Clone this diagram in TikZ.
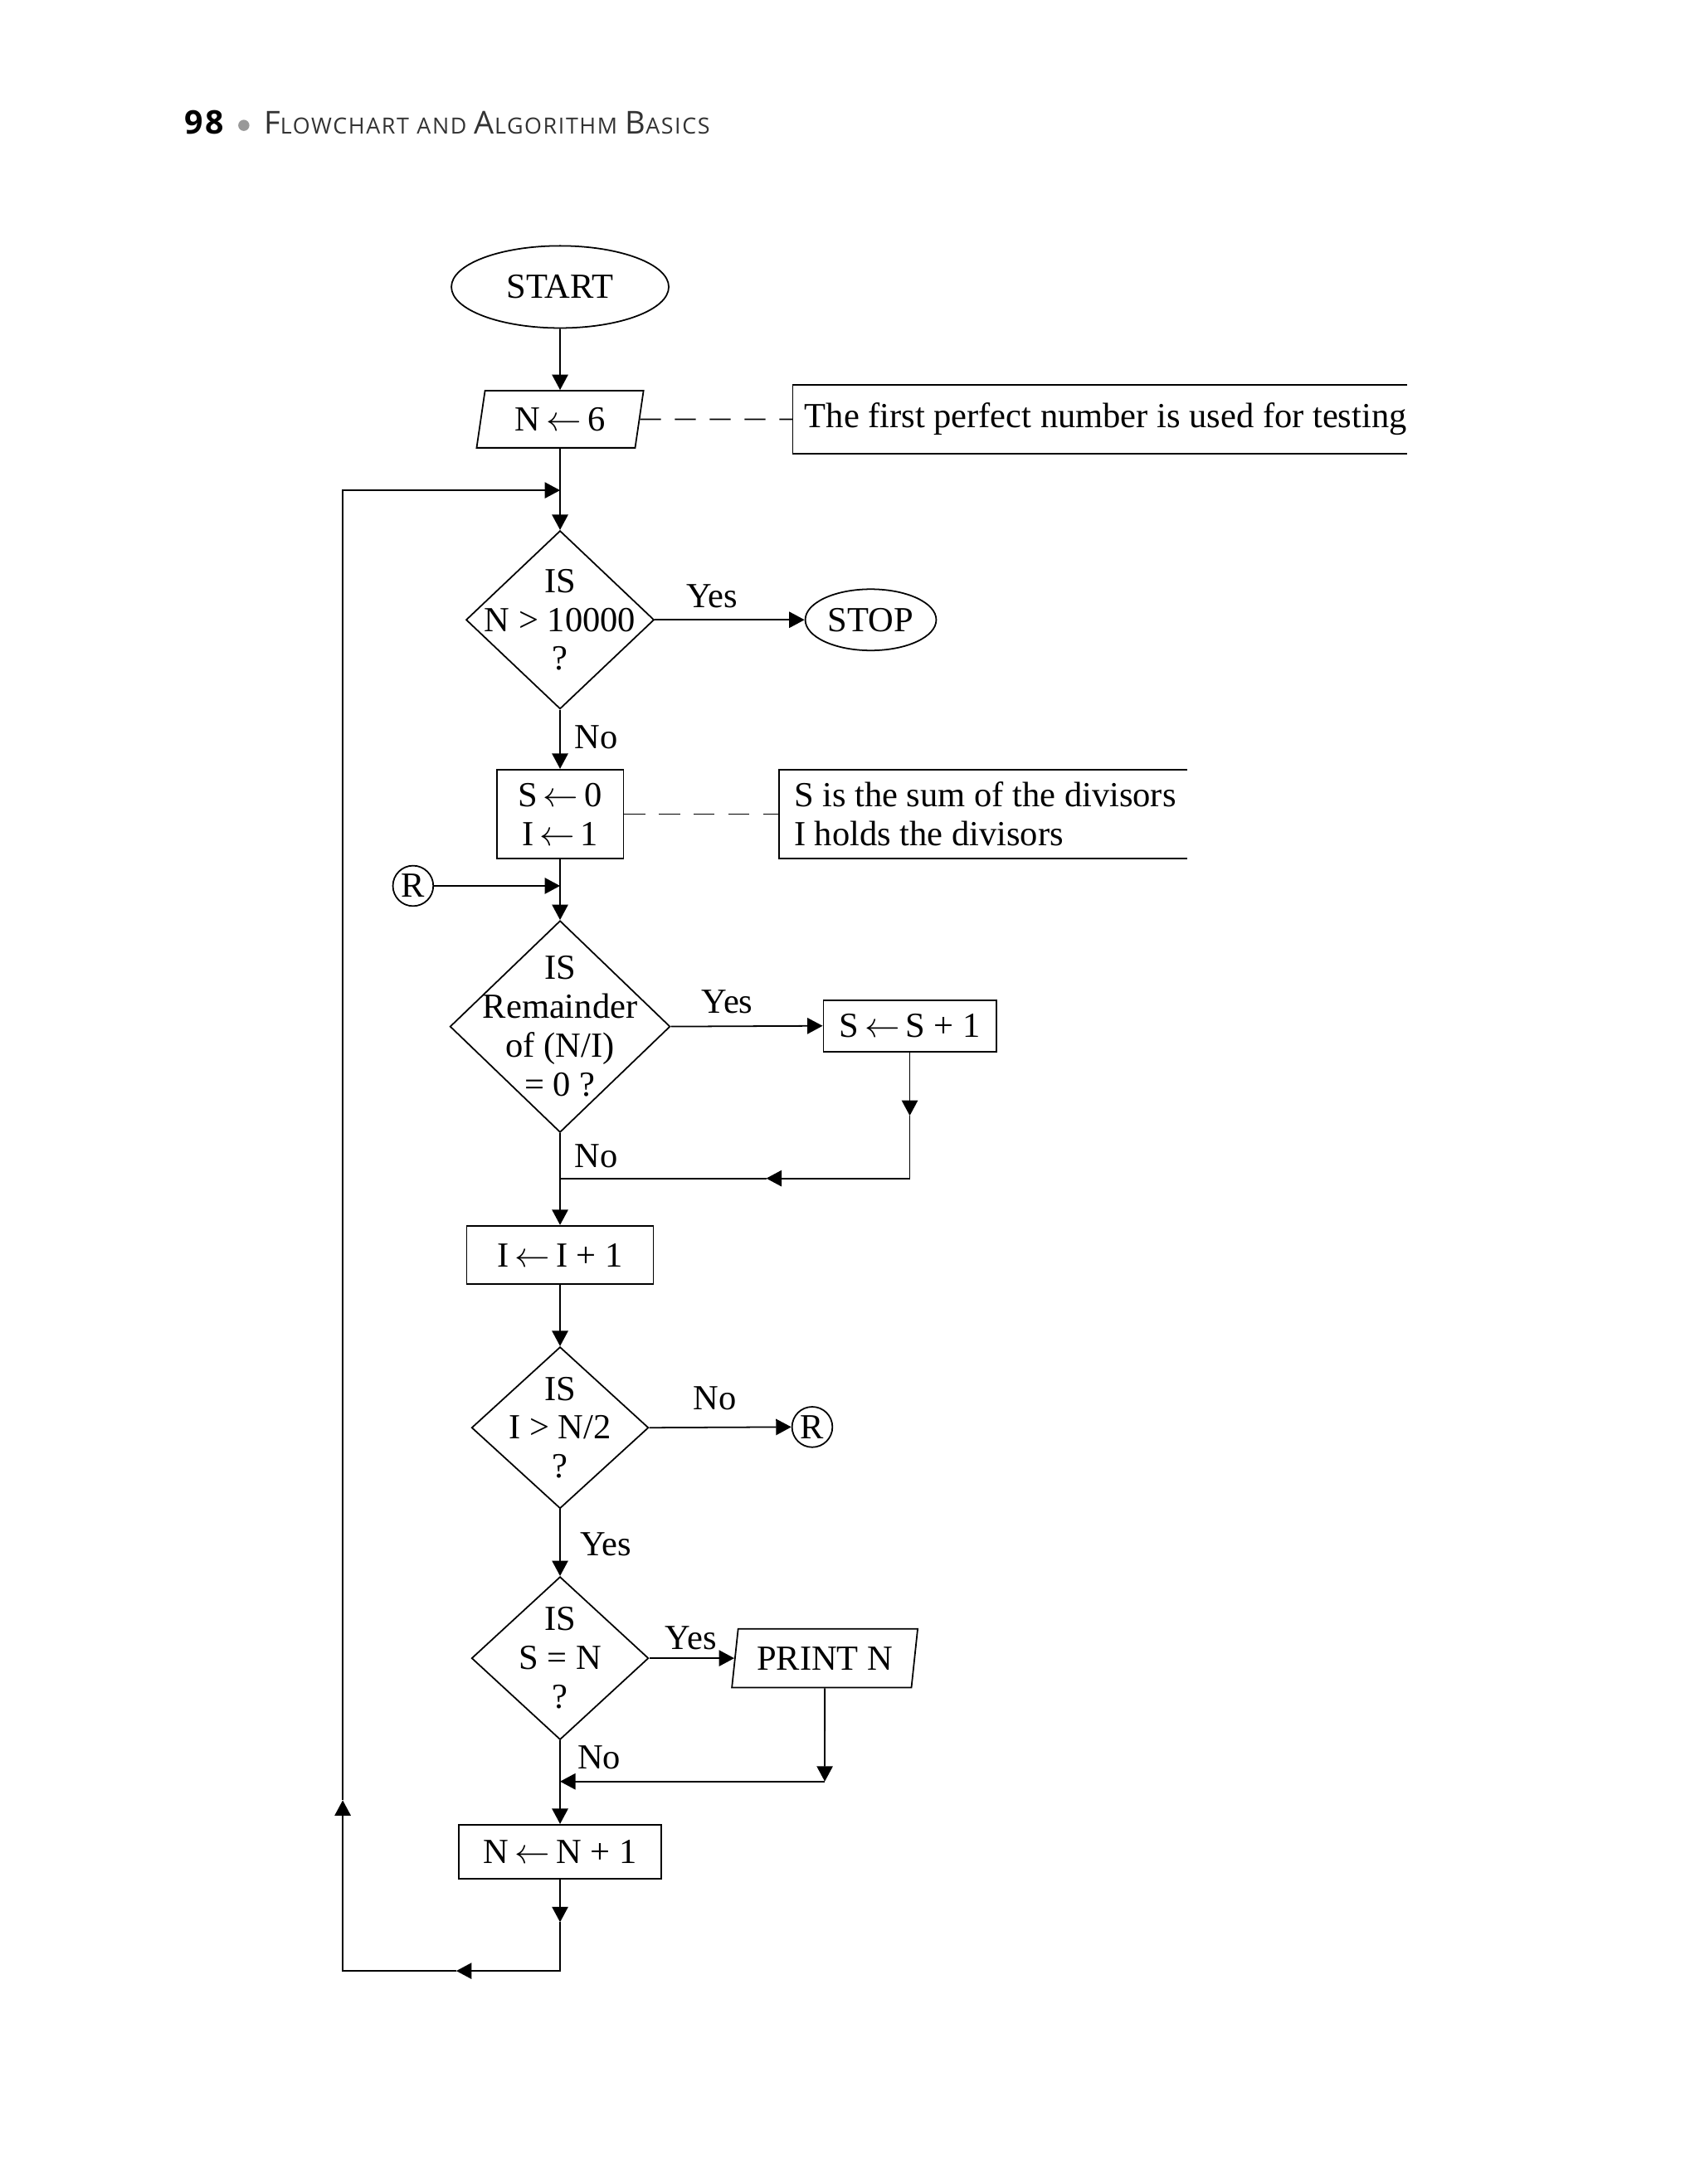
\documentclass[tikz,border=0pt]{standalone}
\usepackage{fontspec}
\setmainfont{Liberation Serif}
\newfontfamily\headfont[LetterSpace=6]{Open Sans}
\usetikzlibrary{shapes.geometric,arrows.meta}
\definecolor{headgray}{gray}{0.2}
\definecolor{dotgray}{gray}{0.6}
\newcommand\hsc[2]{{\fontsize{12.9}{14}\selectfont #1}{\fontsize{9.1}{10}\selectfont #2}}
\newcommand\asg{\,$\leftarrow$\,}
\begin{document}
\begin{tikzpicture}[x=0.2mm, y=-0.2mm, line width=0.6pt,
  every node/.append style={font=\fontsize{14.4}{15.9}\selectfont},
  term/.style={ellipse, draw, inner sep=0pt},
  proc/.style={rectangle, draw, inner sep=0pt, align=center},
  io/.style={trapezium, trapezium left angle=78, trapezium right angle=102, trapezium stretches=true, draw, inner sep=0pt},
  dec/.style={diamond, draw, inner sep=0pt},
  dectext/.style={align=center, inner sep=0pt},
  conn/.style={circle, draw, inner sep=0pt, minimum size=5.8mm},
  note/.style={anchor=west, align=left, inner xsep=2mm, inner ysep=0pt},
  lbl/.style={inner sep=0pt},
  arr/.style={-{Triangle[length=2.2mm, width=2.3mm]}},
  link/.style={dash pattern=on 3mm off 2mm}]
\useasboundingbox (0,0) rectangle (1220,1568);
\node[anchor=base west, inner sep=0pt, font=\headfont\bfseries\fontsize{13.3}{16}\selectfont] (pg) at (132,96.3) {98};
\node[circle, fill=dotgray, inner sep=0pt, minimum size=1.6mm] (dot) at (175,90) {};
\node[anchor=base west, inner sep=0pt, text=headgray, font=\headfont] (ttl) at (189,96.3) {\hsc{F}{LOWCHART} \hsc{}{AND} \hsc{A}{LGORITHM} \hsc{B}{ASICS}};
\node[term, minimum width=31.2mm, minimum height=11.8mm] (start) at (402,206) {START};
\node[io, minimum width=24mm, minimum height=8.2mm] (n6) at (402,301) {N\asg 6};
\draw[arr](start) -- (n6);
\node[note, minimum height=9.6mm, inner xsep=1.6mm] (cmt1) at (569,301) {The first perfect number is used for testing};
\coordinate (cmt1e) at (1010,301);
\draw (cmt1.north west -| cmt1e) -- (cmt1.north west) -- (cmt1.south west) -- (cmt1.south west -| cmt1e);
\draw[link](n6.east) -- (cmt1.west);
\coordinate (j1) at (402,352);
\node[dec, minimum width=27mm, minimum height=25.6mm] (d1) at (402,445) {};
\node[dectext] (d1txt) at (d1) {IS\\N > 10000\\?};
\draw[arr](n6.south) -- (d1.north);
\node[term, minimum width=18.8mm, minimum height=8.8mm] (stop) at (625,445) {STOP};
\draw[arr](d1.east) -- (stop.west);
\node[lbl] (y1) at (511,428) {Yes};
\node[proc, minimum width=18.2mm, minimum height=12.8mm] (init) at (402,584.5) {S\asg 0\\I\asg 1};
\draw[arr](d1.south) -- (init.north);
\node[lbl] (n1) at (428,529) {No};
\node[note, minimum height=12.6mm, inner xsep=2.1mm] (cmt2) at (559,584.5) {S is the sum of the divisors\\I holds the divisors};
\coordinate (cmt2e) at (852,584.5);
\draw (cmt2.north west -| cmt2e) -- (cmt2.north west) -- (cmt2.south west) -- (cmt2.south west -| cmt2e);
\draw[link](init.east) -- (cmt2.west);
\node[conn] (rl) at (296.5,636) {R};
\coordinate (j2) at (402,636);
\draw[arr](rl.east) -- (j2);
\node[dec, minimum width=31.6mm, minimum height=30.4mm] (d2) at (402,737) {};
\node[dectext] (d2txt) at (d2) {IS\\Remainder\\of (N/I)\\= 0 ?};
\draw[arr](init.south) -- (d2.north);
\node[proc, minimum width=24.8mm, minimum height=7.4mm] (ssp1) at (653,736.5) {S\asg S + 1};
\draw[arr](d2.east) -- (ssp1.west);
\node[lbl] (y2) at (522,719) {Yes};
\coordinate (b1) at (653,801);
\coordinate (b2) at (653,846);
\coordinate (b3) at (550,846);
\coordinate (b4) at (402,846);
\draw[arr](ssp1.south) -- (b1);
\draw[arr](b1) -- (b2) -- (b3);
\draw(b3) -- (b4);
\node[lbl] (n2) at (428,830) {No};
\node[proc, minimum width=26.8mm, minimum height=8.4mm] (iinc) at (402,901) {I\asg I + 1};
\draw[arr](d2.south) -- (iinc.north);
\node[dec, minimum width=25.4mm, minimum height=23.2mm] (d3) at (402,1025) {};
\node[dectext] (d3txt) at (d3) {IS\\I > N/2\\?};
\draw[arr](iinc.south) -- (d3.north);
\node[conn] (rr) at (583,1024.5) {R};
\draw[arr](d3.east) -- (rr.west);
\node[lbl] (n3) at (513,1004) {No};
\node[dec, minimum width=25.4mm, minimum height=23.4mm] (d4) at (402,1190.5) {};
\node[dectext] (d4txt) at (d4) {IS\\S = N\\?};
\draw[arr](d3.south) -- (d4.north);
\node[lbl] (y3) at (435,1109) {Yes};
\node[io, minimum width=26.8mm, minimum height=8.4mm] (prn) at (592,1190.5) {PRINT N};
\draw[arr](d4.east) -- (prn.west);
\node[lbl] (y4) at (496,1176) {Yes};
\coordinate (c1) at (592,1279);
\coordinate (c2) at (402,1279);
\draw[arr](prn.south) -- (c1);
\draw[arr](c1) -- (c2);
\node[lbl] (n4) at (430,1262) {No};
\node[proc, minimum width=29mm, minimum height=7.8mm] (ninc) at (402,1329.5) {N\asg N + 1};
\draw[arr](d4.south) -- (ninc.north);
\coordinate (a1) at (402,1380);
\coordinate (lp0) at (402,1415);
\coordinate (a2) at (327.5,1415);
\coordinate (lp1) at (246,1415);
\coordinate (a3) at (246,1292.5);
\coordinate (lp2) at (246,352);
\draw[arr](ninc.south) -- (a1);
\draw[arr](a1) -- (lp0) -- (a2);
\draw[arr](a2) -- (lp1) -- (a3);
\draw[arr](a3) -- (lp2) -- (j1);
\end{tikzpicture}
\end{document}
